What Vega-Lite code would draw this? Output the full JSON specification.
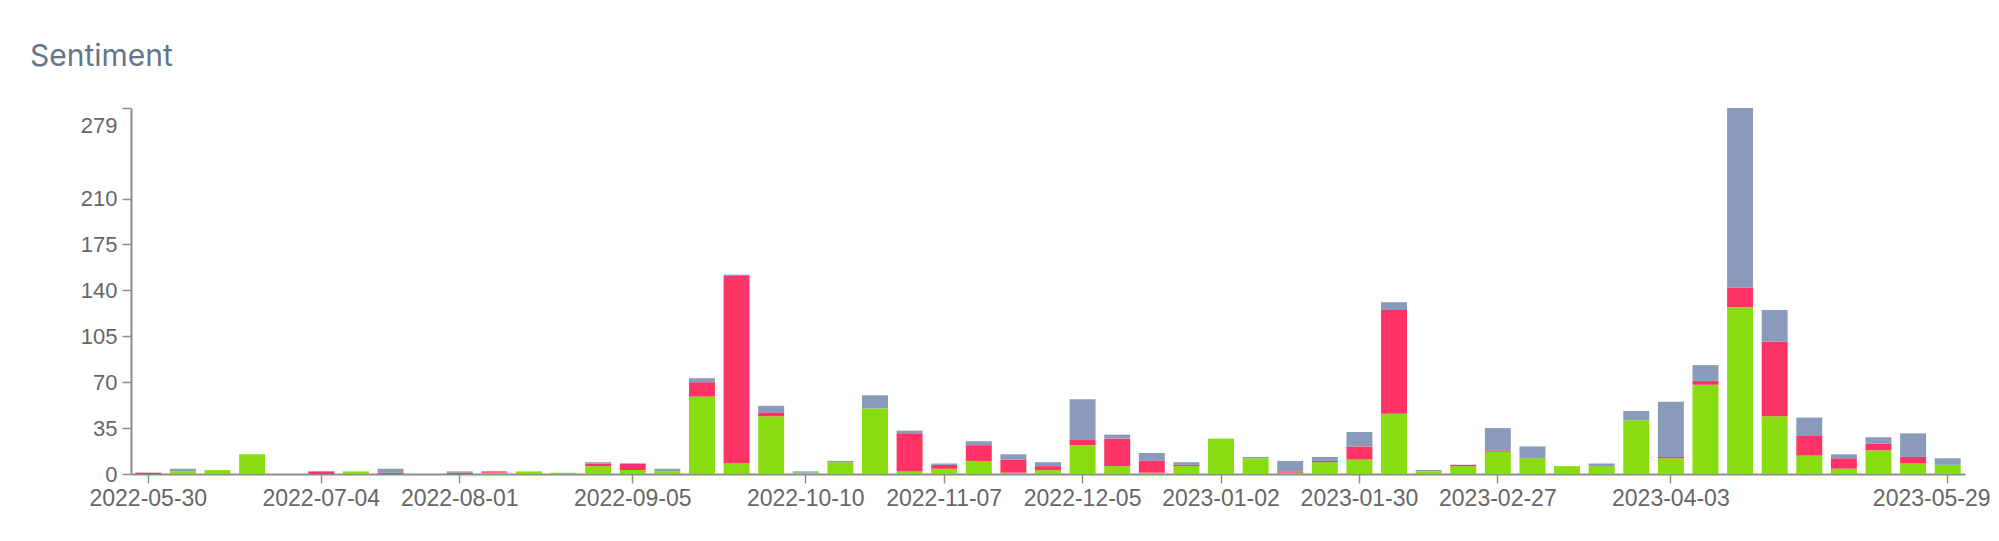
{
  "$schema": "https://vega.github.io/schema/vega-lite/v6.json",
  "width": 1834,
  "height": 366,
  "autosize": "none",
  "padding": {"left": 131, "top": 108, "right": 34, "bottom": 67},
  "background": "white",
  "title": {"text": "Sentiment", "anchor": "start", "frame": "group", "dx": -101, "offset": 11, "baseline": "alphabetic", "font": "Inter", "fontSize": 30, "fontWeight": "normal", "color": "#64748b"},
  "data": {"values": [
    {"week": "2022-05-30", "positive": 0, "negative": 1, "neutral": 0},
    {"week": "2022-06-06", "positive": 2, "negative": 0, "neutral": 2},
    {"week": "2022-06-13", "positive": 3, "negative": 0, "neutral": 0},
    {"week": "2022-06-20", "positive": 15, "negative": 0, "neutral": 0},
    {"week": "2022-06-27", "positive": 0, "negative": 0, "neutral": 0},
    {"week": "2022-07-04", "positive": 0, "negative": 2, "neutral": 0},
    {"week": "2022-07-11", "positive": 2, "negative": 0, "neutral": 0},
    {"week": "2022-07-18", "positive": 0, "negative": 1, "neutral": 3},
    {"week": "2022-07-25", "positive": 0, "negative": 0, "neutral": 0},
    {"week": "2022-08-01", "positive": 0, "negative": 1, "neutral": 1},
    {"week": "2022-08-08", "positive": 1, "negative": 1, "neutral": 0},
    {"week": "2022-08-15", "positive": 2, "negative": 0, "neutral": 0},
    {"week": "2022-08-22", "positive": 1, "negative": 0, "neutral": 0},
    {"week": "2022-08-29", "positive": 6, "negative": 2, "neutral": 1},
    {"week": "2022-09-05", "positive": 3, "negative": 5, "neutral": 0},
    {"week": "2022-09-12", "positive": 2, "negative": 0, "neutral": 2},
    {"week": "2022-09-19", "positive": 59, "negative": 11, "neutral": 3},
    {"week": "2022-09-26", "positive": 8, "negative": 143, "neutral": 1},
    {"week": "2022-10-03", "positive": 44, "negative": 3, "neutral": 5},
    {"week": "2022-10-10", "positive": 1, "negative": 0, "neutral": 1},
    {"week": "2022-10-17", "positive": 9, "negative": 0, "neutral": 1},
    {"week": "2022-10-24", "positive": 50, "negative": 0, "neutral": 10},
    {"week": "2022-10-31", "positive": 2, "negative": 29, "neutral": 2},
    {"week": "2022-11-07", "positive": 4, "negative": 3, "neutral": 1},
    {"week": "2022-11-14", "positive": 10, "negative": 12, "neutral": 3},
    {"week": "2022-11-21", "positive": 1, "negative": 10, "neutral": 4},
    {"week": "2022-11-28", "positive": 3, "negative": 3, "neutral": 3},
    {"week": "2022-12-05", "positive": 22, "negative": 4, "neutral": 31},
    {"week": "2022-12-12", "positive": 6, "negative": 21, "neutral": 3},
    {"week": "2022-12-19", "positive": 1, "negative": 9, "neutral": 6},
    {"week": "2022-12-26", "positive": 6, "negative": 1, "neutral": 2},
    {"week": "2023-01-02", "positive": 27, "negative": 0, "neutral": 0},
    {"week": "2023-01-09", "positive": 12, "negative": 0, "neutral": 1},
    {"week": "2023-01-16", "positive": 1, "negative": 1, "neutral": 8},
    {"week": "2023-01-23", "positive": 9, "negative": 1, "neutral": 3},
    {"week": "2023-01-30", "positive": 11, "negative": 10, "neutral": 11},
    {"week": "2023-02-06", "positive": 46, "negative": 79, "neutral": 6},
    {"week": "2023-02-13", "positive": 2, "negative": 0, "neutral": 1},
    {"week": "2023-02-20", "positive": 6, "negative": 1, "neutral": 0},
    {"week": "2023-02-27", "positive": 17, "negative": 1, "neutral": 17},
    {"week": "2023-03-06", "positive": 12, "negative": 0, "neutral": 9},
    {"week": "2023-03-13", "positive": 6, "negative": 0, "neutral": 0},
    {"week": "2023-03-20", "positive": 6, "negative": 0, "neutral": 2},
    {"week": "2023-03-27", "positive": 41, "negative": 0, "neutral": 7},
    {"week": "2023-04-03", "positive": 12, "negative": 1, "neutral": 42},
    {"week": "2023-04-10", "positive": 68, "negative": 3, "neutral": 12},
    {"week": "2023-04-17", "positive": 127, "negative": 15, "neutral": 137},
    {"week": "2023-04-24", "positive": 44, "negative": 57, "neutral": 24},
    {"week": "2023-05-01", "positive": 14, "negative": 15, "neutral": 14},
    {"week": "2023-05-08", "positive": 4, "negative": 8, "neutral": 3},
    {"week": "2023-05-15", "positive": 18, "negative": 5, "neutral": 5},
    {"week": "2023-05-22", "positive": 8, "negative": 5, "neutral": 18},
    {"week": "2023-05-29", "positive": 7, "negative": 0, "neutral": 5}
  ]},
  "transform": [
    {"fold": ["positive", "negative", "neutral"], "as": ["sentiment", "count"]},
    {"calculate": "indexof(['positive','negative','neutral'], datum.sentiment)", "as": "stackOrder"}
  ],
  "mark": {"type": "bar"},
  "encoding": {
    "x": {
      "field": "week", "type": "ordinal", "title": null,
      "scale": {"paddingInner": 0.25, "paddingOuter": 0.125},
      "axis": {
        "values": ["2022-05-30", "2022-07-04", "2022-08-01", "2022-09-05", "2022-10-10", "2022-11-07", "2022-12-05", "2023-01-02", "2023-01-30", "2023-02-27", "2023-04-03", "2023-05-29"],
        "labelAngle": 0, "tickSize": 9, "labelPadding": 4,
        "labelFont": "Liberation Sans", "labelFontSize": 23, "labelColor": "#666666",
        "domainColor": "#8c8c8c", "domainWidth": 2, "tickColor": "#8c8c8c", "tickWidth": 1.5,
        "labelOverlap": false,
        "labelOffset": {"condition": {"test": "datum.value == '2023-05-29'", "value": -16}, "value": 0}
      }
    },
    "y": {
      "field": "count", "type": "quantitative", "stack": "zero", "title": null,
      "scale": {"domain": [0, 279], "nice": false},
      "axis": {
        "values": [0, 35, 70, 105, 140, 175, 210, 279],
        "grid": false, "tickSize": 9, "labelPadding": 5,
        "labelFont": "Liberation Sans", "labelFontSize": 22, "labelColor": "#666666",
        "domainColor": "#8c8c8c", "domainWidth": 2, "tickColor": "#8c8c8c", "tickWidth": 1.5,
        "labelOverlap": false,
        "labelOffset": {"condition": {"test": "datum.value == 279", "value": 17}, "value": 0}
      }
    },
    "color": {
      "field": "sentiment", "type": "nominal",
      "scale": {"domain": ["positive", "negative", "neutral"], "range": ["#88dd11", "#ff3366", "#8a9aba"]},
      "legend": null
    },
    "order": {"field": "stackOrder", "type": "quantitative"}
  },
  "config": {"view": {"stroke": null}}
}
